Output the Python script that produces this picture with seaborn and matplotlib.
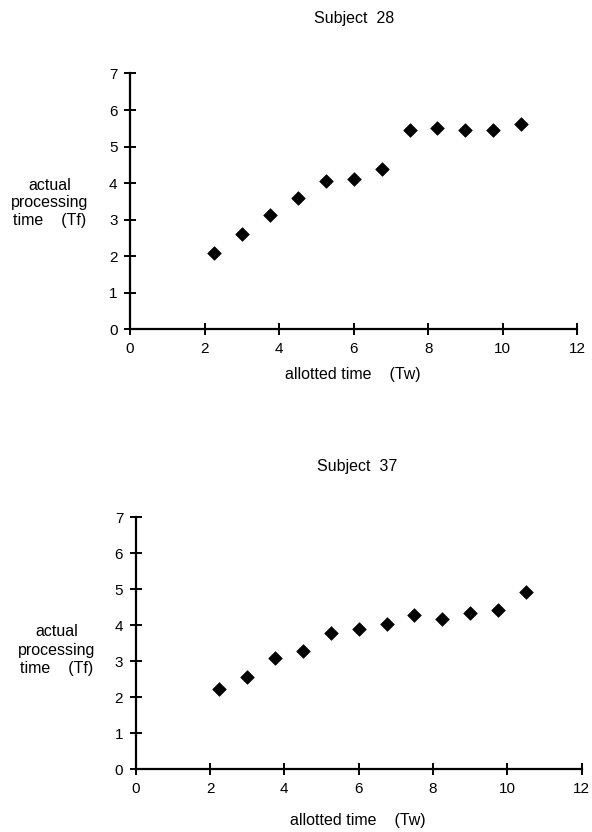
import numpy as np
import pandas as pd
import matplotlib
matplotlib.use("Agg")
import matplotlib.pyplot as plt
import seaborn as sns

# allotted time (Tw), same schedule for both subjects
allotted = [2.25, 3.0, 3.75, 4.5, 5.25, 6.0, 6.75, 7.5, 8.25, 9.0, 9.75, 10.5]
# actual processing time (Tf)
subj28 = [2.08, 2.62, 3.13, 3.58, 4.06, 4.11, 4.39, 5.45, 5.52, 5.45, 5.45, 5.62]
subj37 = [2.22, 2.55, 3.08, 3.30, 3.79, 3.90, 4.05, 4.28, 4.18, 4.35, 4.43, 4.93]

xticks = [0, 2, 4, 6, 8, 10, 12]
yticks = [0, 1, 2, 3, 4, 5, 6, 7]

sns.set_style("ticks")
plt.rcParams["font.family"] = ["Liberation Sans", "DejaVu Sans"]
plt.rcParams["text.color"] = "black"

W, H = 592, 832
fig = plt.figure(figsize=(W / 100, H / 100), dpi=100)

# (title, values, axes rect, title pos, xlabel pos, ylabel pos) -- positions in pixels
panels = [
    ("Subject  28", subj28, [0.2196, 0.6042, 0.7554, 0.3075], (354, 18), (353, 375), (50, 203)),
    ("Subject  37", subj37, [0.2292, 0.0754, 0.7534, 0.3028], (357, 466), (358, 821), (57, 650)),
]

for title, vals, rect, tpos, xpos, ypos in panels:
    df = pd.DataFrame({"Tw": allotted, "Tf": vals})
    ax = fig.add_axes(rect)
    sns.scatterplot(data=df, x="Tw", y="Tf", ax=ax, marker="D", s=48,
                    color="black", edgecolor="black", linewidth=0.5, clip_on=False)
    ax.set_xlim(0, 12)
    ax.set_ylim(0, 7)
    ax.set_xticks(xticks)
    ax.set_yticks(yticks)
    ax.tick_params(direction="inout", length=8, width=1.4, labelsize=11,
                   pad=5, colors="black")
    sns.despine(ax=ax)
    for side in ["left", "bottom"]:
        ax.spines[side].set_linewidth(1.6)
        ax.spines[side].set_color("black")
    ax.set_xlabel("")
    ax.set_ylabel("")
    fig.text(tpos[0] / W, 1 - tpos[1] / H, title, ha="center", va="center", fontsize=11.5)
    fig.text(xpos[0] / W, 1 - xpos[1] / H, "allotted time    (Tw)",
             ha="center", va="center", fontsize=11.5)
    fig.text(ypos[0] / W, 1 - ypos[1] / H, "actual\nprocessing\ntime    (Tf)",
             ha="center", va="center", fontsize=11.5, linespacing=1.25)

fig.savefig("out.png", dpi=100)
